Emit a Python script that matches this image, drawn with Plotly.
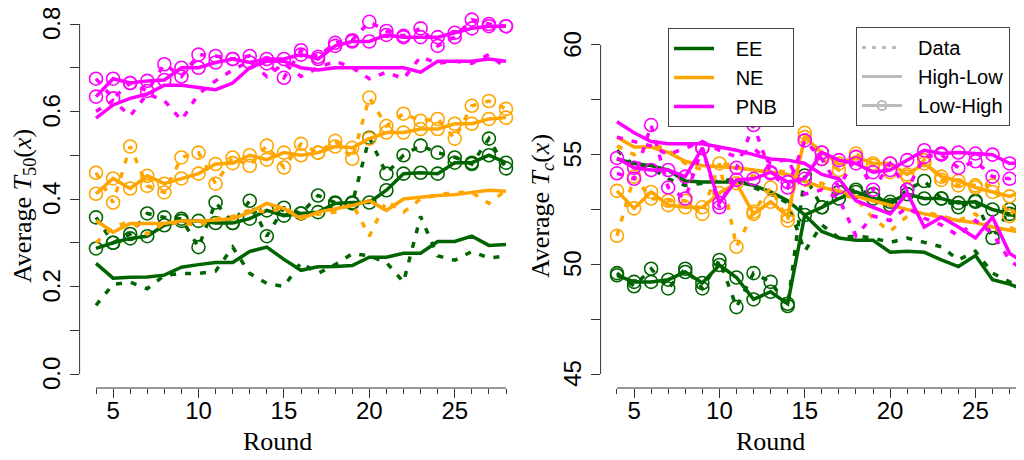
import plotly.graph_objects as go

rounds = [4, 5, 6, 7, 8, 9, 10, 11, 12, 13, 14, 15, 16, 17, 18, 19, 20, 21, 22, 23, 24, 25, 26, 27, 28]

# Left panel: Average T50(x)
t50_ee_hl_fit = [0.253, 0.219, 0.221, 0.222, 0.226, 0.244, 0.250, 0.255, 0.255, 0.280, 0.290, 0.262, 0.237,
                 0.245, 0.246, 0.248, 0.267, 0.267, 0.276, 0.276, 0.303, 0.303, 0.315, 0.294, 0.296]
t50_ee_hl_data = [0.157, 0.205, 0.210, 0.195, 0.225, 0.230, 0.230, 0.235, 0.290, 0.230, 0.207, 0.200, 0.255,
                  0.230, 0.250, 0.275, 0.270, 0.255, 0.210, 0.360, 0.270, 0.260, 0.280, 0.265, 0.270]
t50_ee_lh_fit = [0.287, 0.300, 0.310, 0.315, 0.340, 0.350, 0.350, 0.345, 0.345, 0.355, 0.374, 0.362, 0.367,
                 0.370, 0.390, 0.392, 0.392, 0.420, 0.458, 0.460, 0.458, 0.483, 0.483, 0.500, 0.483]
t50_ee_lh_data = [0.358, 0.300, 0.320, 0.367, 0.358, 0.355, 0.290, 0.392, 0.345, 0.396, 0.315, 0.380, 0.367,
                  0.408, 0.392, 0.390, 0.540, 0.458, 0.500, 0.522, 0.506, 0.495, 0.480, 0.538, 0.470]
t50_ne_hl_fit = [0.351, 0.324, 0.344, 0.344, 0.344, 0.350, 0.350, 0.352, 0.355, 0.370, 0.390, 0.378, 0.355,
                 0.370, 0.378, 0.385, 0.396, 0.374, 0.400, 0.405, 0.408, 0.410, 0.415, 0.420, 0.418]
t50_ne_hl_data = [0.300, 0.335, 0.350, 0.320, 0.345, 0.345, 0.340, 0.355, 0.360, 0.375, 0.370, 0.380, 0.360,
                  0.365, 0.370, 0.390, 0.315, 0.395, 0.370, 0.400, 0.410, 0.415, 0.415, 0.390, 0.420]
t50_ne_lh_fit = [0.412, 0.447, 0.424, 0.453, 0.435, 0.447, 0.458, 0.480, 0.482, 0.500, 0.490, 0.506, 0.500,
                 0.506, 0.520, 0.517, 0.538, 0.552, 0.552, 0.560, 0.560, 0.572, 0.572, 0.583, 0.586]
t50_ne_lh_data = [0.460, 0.392, 0.520, 0.430, 0.415, 0.495, 0.506, 0.435, 0.495, 0.476, 0.522, 0.472, 0.526,
                  0.506, 0.533, 0.492, 0.632, 0.567, 0.595, 0.579, 0.583, 0.538, 0.613, 0.624, 0.606]
t50_pnb_hl_fit = [0.585, 0.615, 0.630, 0.640, 0.660, 0.660, 0.655, 0.650, 0.665, 0.700, 0.715, 0.715, 0.700,
                  0.695, 0.700, 0.700, 0.700, 0.700, 0.700, 0.690, 0.715, 0.715, 0.715, 0.720, 0.715]
t50_pnb_hl_data = [0.600, 0.625, 0.590, 0.640, 0.625, 0.580, 0.640, 0.670, 0.695, 0.715, 0.680, 0.710, 0.680,
                   0.700, 0.715, 0.700, 0.675, 0.690, 0.675, 0.725, 0.710, 0.715, 0.710, 0.730, 0.700]
t50_pnb_lh_fit = [0.634, 0.675, 0.665, 0.670, 0.672, 0.700, 0.700, 0.712, 0.720, 0.712, 0.720, 0.720, 0.730,
                  0.720, 0.750, 0.760, 0.760, 0.775, 0.770, 0.770, 0.770, 0.780, 0.790, 0.795, 0.795]
t50_pnb_lh_data = [0.675, 0.630, 0.665, 0.647, 0.708, 0.680, 0.730, 0.727, 0.720, 0.727, 0.710, 0.677, 0.740,
                   0.725, 0.757, 0.763, 0.805, 0.784, 0.773, 0.790, 0.750, 0.770, 0.810, 0.800, 0.795]

# Right panel: Average Tc(x)
tc_ee_hl_fit = [54.8, 54.6, 54.5, 54.3, 53.8, 53.75, 53.75, 53.75, 53.6, 53.3, 52.9, 52.25, 51.5,
                51.2, 51.1, 51.1, 50.55, 50.6, 50.55, 50.2, 49.9, 50.4, 49.3, 49.1, 48.8]
tc_ee_hl_data = [55.2, 54.5, 54.4, 53.9, 53.6, 53.7, 53.8, 53.9, 53.5, 53.2, 52.8, 50.6, 51.8,
                 51.2, 51.3, 51.2, 51.0, 51.2, 51.0, 50.8, 50.2, 50.6, 49.6, 49.2, 48.9]
tc_ee_lh_fit = [49.5, 49.2, 49.2, 49.3, 49.65, 49.15, 49.97, 49.4, 48.4, 48.75, 48.2, 52.25, 52.6,
                53.0, 53.3, 53.0, 52.85, 53.2, 53.0, 53.0, 52.8, 52.85, 52.5, 52.3, 52.0]
tc_ee_lh_data = [49.6, 49.0, 49.8, 48.9, 49.8, 48.9, 50.2, 48.05, 49.6, 49.2, 48.1, 54.05, 52.6,
                 53.3, 53.4, 53.2, 52.7, 53.4, 53.8, 53.0, 52.6, 52.9, 51.2, 52.5, 52.5]
tc_ne_hl_fit = [55.8, 55.35, 55.35, 55.1, 54.7, 54.5, 54.45, 54.4, 54.3, 54.2, 54.1, 53.8, 53.5,
                53.35, 53.1, 52.9, 52.7, 52.5, 52.3, 52.15, 52.0, 51.9, 51.7, 51.55, 51.4]
tc_ne_hl_data = [55.4, 55.0, 55.5, 55.2, 54.6, 54.3, 54.6, 54.5, 54.0, 54.3, 54.2, 53.6, 53.7,
                 53.2, 53.0, 52.1, 51.5, 52.2, 52.4, 52.2, 52.0, 52.3, 51.5, 51.7, 51.3]
tc_ne_lh_fit = [53.35, 52.55, 53.3, 52.7, 52.6, 52.6, 53.25, 53.7, 52.3, 52.85, 52.2, 55.8, 55.1,
                54.6, 54.9, 54.6, 54.6, 54.1, 54.6, 54.0, 53.8, 53.5, 53.3, 53.1, 53.4]
tc_ne_lh_data = [51.3, 54.0, 53.0, 52.9, 52.9, 52.3, 54.6, 50.8, 52.4, 53.5, 52.0, 56.0, 54.8,
                 54.3, 55.05, 54.5, 54.2, 54.0, 54.75, 53.85, 53.6, 53.6, 53.6, 52.2, 53.2]
tc_pnb_hl_fit = [56.5, 56.0, 55.6, 55.5, 55.5, 55.5, 55.35, 55.2, 55.0, 54.8, 54.75, 54.6, 54.1,
                 53.9, 52.9, 52.6, 52.3, 53.25, 51.7, 52.15, 51.7, 51.2, 52.15, 50.5, 50.0]
tc_pnb_hl_data = [55.8, 55.6, 55.4, 55.0, 55.3, 55.6, 55.2, 54.9, 55.3, 54.6, 54.8, 53.2, 53.4,
                  53.0, 51.3, 52.2, 52.0, 52.6, 52.1, 51.8, 51.3, 52.0, 51.4, 50.2, 49.6]
tc_pnb_lh_fit = [54.85, 54.4, 54.3, 54.3, 54.0, 55.3, 52.8, 53.85, 53.9, 54.2, 53.75, 53.9, 55.1,
                 54.75, 54.6, 54.2, 54.3, 54.75, 55.2, 55.05, 55.1, 55.05, 55.0, 54.6, 54.65]
tc_pnb_lh_data = [54.15, 53.9, 56.35, 53.5, 53.0, 55.3, 52.6, 54.4, 56.35, 54.15, 53.5, 55.65, 54.8,
                  53.5, 54.9, 53.4, 54.6, 53.4, 54.9, 55.0, 54.4, 54.7, 54.0, 53.9, 54.5]

groups = ["EE", "NE", "PNB"]
colors = ["#006400", "#FFA500", "#FF00FF"]

t50_series = [
    (t50_ee_hl_fit, t50_ee_hl_data, t50_ee_lh_fit, t50_ee_lh_data),
    (t50_ne_hl_fit, t50_ne_hl_data, t50_ne_lh_fit, t50_ne_lh_data),
    (t50_pnb_hl_fit, t50_pnb_hl_data, t50_pnb_lh_fit, t50_pnb_lh_data),
]
tc_series = [
    (tc_ee_hl_fit, tc_ee_hl_data, tc_ee_lh_fit, tc_ee_lh_data),
    (tc_ne_hl_fit, tc_ne_hl_data, tc_ne_lh_fit, tc_ne_lh_data),
    (tc_pnb_hl_fit, tc_pnb_hl_data, tc_pnb_lh_fit, tc_pnb_lh_data),
]

LW = 3.5
DASH = "6px,9px"
circle = dict(symbol="circle-open", size=13, line=dict(width=1.6))

fig = go.Figure()


def add_panel(series, xa, ya):
    for color, (hl_fit, hl_data, lh_fit, lh_data) in zip(colors, series):
        fig.add_trace(go.Scatter(x=rounds, y=hl_data, mode="lines", xaxis=xa, yaxis=ya,
                                 line=dict(color=color, width=LW, dash=DASH), showlegend=False))
        fig.add_trace(go.Scatter(x=rounds, y=hl_fit, mode="lines", xaxis=xa, yaxis=ya,
                                 line=dict(color=color, width=LW), showlegend=False))
        fig.add_trace(go.Scatter(x=rounds, y=lh_data, mode="lines+markers", xaxis=xa, yaxis=ya,
                                 line=dict(color=color, width=LW, dash=DASH),
                                 marker=dict(color=color, **circle), showlegend=False))
        fig.add_trace(go.Scatter(x=rounds, y=lh_fit, mode="lines+markers", xaxis=xa, yaxis=ya,
                                 line=dict(color=color, width=LW),
                                 marker=dict(color=color, **circle), showlegend=False))


add_panel(t50_series, "x", "y")
add_panel(tc_series, "x2", "y2")

# legend 1: groups (non-breaking spaces widen the gap after the line sample)
pad = "\u00a0\u00a0\u00a0"
for g, c in zip(groups, colors):
    fig.add_trace(go.Scatter(x=[None], y=[None], mode="lines", name=pad + g + "\u00a0\u00a0",
                             line=dict(color=c, width=LW), legend="legend"))

# legend 2: line types
grey = "#BBBBBB"
pad2 = "\u00a0\u00a0"
fig.add_trace(go.Scatter(x=[None], y=[None], mode="lines", name=pad2 + "Data",
                         line=dict(color=grey, width=3, dash="4px,6px"), legend="legend2"))
fig.add_trace(go.Scatter(x=[None], y=[None], mode="lines", name=pad2 + "High-Low",
                         line=dict(color=grey, width=3), legend="legend2"))
fig.add_trace(go.Scatter(x=[None], y=[None], mode="lines+markers", name=pad2 + "Low-High",
                         line=dict(color=grey, width=3),
                         marker=dict(symbol="circle-open", size=9, color=grey, line=dict(width=2)),
                         legend="legend2"))

# the page puts the figure 8px in from the top-left corner of the window
OFF = 8
W, H = 1024 - OFF, 460 - OFF


def px(xpix):
    return (xpix - OFF) / W


def py(ypix):
    return 1 - (ypix - OFF) / H


tick_font = dict(family="Liberation Sans, Arial, sans-serif", size=24, color="black")
axis_col = "#333333"

common_x = dict(tickmode="linear", tick0=0, dtick=5, ticks="outside", ticklen=9, tickwidth=1,
                tickcolor=axis_col, showgrid=False, zeroline=False, showline=False,
                automargin=False, tickfont=tick_font, ticklabelstandoff=-8,
                ticklabeloverflow="allow",
                minor=dict(dtick=1, tick0=0, ticks="outside", ticklen=5, tickwidth=1,
                           tickcolor=axis_col, showgrid=False))
# positive shift moves the rotated y labels down a little
common_y = dict(ticks="outside", ticklen=9, tickwidth=1, tickcolor=axis_col, showgrid=False,
                zeroline=False, showline=False, automargin=False, tickangle=-90,
                tickfont=tick_font, ticklabeloverflow="allow", ticklabelshift=3)

t50_ticks = [0.0, 0.2, 0.4, 0.6, 0.8]
t50_minor = [0.1, 0.3, 0.5, 0.7]
tc_ticks = [45, 50, 55, 60]
tc_minor = [47.5, 52.5, 57.5]

legend_font = dict(family="Liberation Sans, Arial, sans-serif", size=20, color="black")

fig.update_layout(
    width=W, height=H,
    margin=dict(l=0, r=0, t=0, b=0, autoexpand=False),
    paper_bgcolor="white", plot_bgcolor="white",
    xaxis=dict(domain=[px(79.6), px(522.4)], range=[3.04, 28.96], anchor="y", **common_x),
    yaxis=dict(domain=[py(388), py(10)], range=[-0.032, 0.832], anchor="x",
               tickvals=t50_ticks, ticktext=[f"{v:.1f}" for v in t50_ticks],
               minor=dict(tickvals=t50_minor, ticks="outside", ticklen=9, tickwidth=1,
                          tickcolor=axis_col, showgrid=False),
               **common_y),
    xaxis2=dict(domain=[px(600.6), 1.0], range=[3.04, 3.04 + (1024 - 600.6) / 17.07], anchor="y2",
                **common_x),
    yaxis2=dict(domain=[py(388), py(31.7)], range=[44.362, 60.606], anchor="x2",
                tickvals=tc_ticks, ticktext=[str(v) for v in tc_ticks],
                minor=dict(tickvals=tc_minor, ticks="outside", ticklen=9, tickwidth=1,
                           tickcolor=axis_col, showgrid=False),
                **common_y),
    legend=dict(x=px(668), y=py(28), xanchor="left", yanchor="top",
                bordercolor="#444444", borderwidth=1, bgcolor="white",
                font=legend_font, itemwidth=40, tracegroupgap=0),
    legend2=dict(x=px(856), y=py(27), xanchor="left", yanchor="top",
                 bordercolor="#444444", borderwidth=1, bgcolor="white",
                 font=legend_font, itemwidth=40, tracegroupgap=0),
    showlegend=True,
)

# R-style axis lines that only span the tick range
line_style = dict(color=axis_col, width=1)
fig.add_shape(type="line", xref="x", yref="y domain", x0=rounds[0], x1=rounds[-1], y0=0, y1=0, line=line_style)
fig.add_shape(type="line", xref="x domain", yref="y", x0=0, x1=0, y0=t50_ticks[0], y1=t50_ticks[-1], line=line_style)
fig.add_shape(type="line", xref="x2", yref="y2 domain", x0=rounds[0], x1=rounds[-1], y0=0, y1=0, line=line_style)
fig.add_shape(type="line", xref="x2 domain", yref="y2", x0=0, x1=0, y0=tc_ticks[0], y1=tc_ticks[-1], line=line_style)

title_font = dict(family="Liberation Serif, Times New Roman, serif", size=26, color="black")
fig.add_annotation(text="Round", xref="paper", yref="paper", x=px(277), y=py(441),
                   showarrow=False, font=title_font, xanchor="center", yanchor="middle")
fig.add_annotation(text="Round", xref="paper", yref="paper", x=px(770), y=py(441),
                   showarrow=False, font=title_font, xanchor="center", yanchor="middle")
fig.add_annotation(text="Average <i>T</i><sub>50</sub>(<i>x</i>)", xref="paper", yref="paper",
                   x=px(24), y=py(206), textangle=-90, showarrow=False, font=title_font,
                   xanchor="center", yanchor="middle")
fig.add_annotation(text="Average <i>T</i><sub><i>c</i></sub>(<i>x</i>)", xref="paper", yref="paper",
                   x=px(542), y=py(206), textangle=-90, showarrow=False, font=title_font,
                   xanchor="center", yanchor="middle")

fig.write_html("out.html")
